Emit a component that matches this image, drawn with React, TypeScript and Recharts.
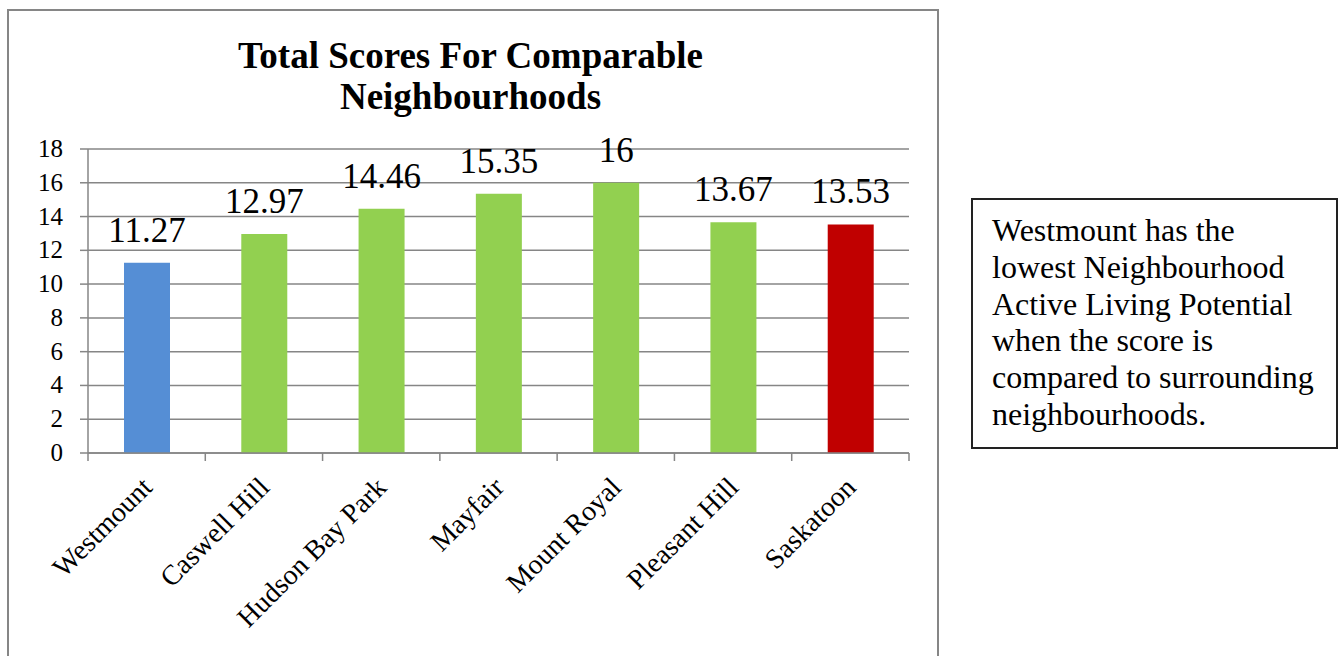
import { BarChart, Bar, XAxis, YAxis, CartesianGrid, Cell, LabelList } from 'recharts';

const neighbourhoods = ['Westmount', 'Caswell Hill', 'Hudson Bay Park', 'Mayfair', 'Mount Royal', 'Pleasant Hill', 'Saskatoon'];
const scores = [11.27, 12.97, 14.46, 15.35, 16, 13.67, 13.53];
const barColors = ['#558ED5', '#92D050', '#92D050', '#92D050', '#92D050', '#92D050', '#C00000'];
const yTicks = [0, 2, 4, 6, 8, 10, 12, 14, 16, 18];

const titleLines = ['Total Scores For Comparable', 'Neighbourhoods'];
const noteLines = [
  'Westmount has the',
  'lowest Neighbourhood',
  'Active Living Potential',
  'when the score is',
  'compared to surrounding',
  'neighbourhoods.',
];

const FONT = '"Liberation Serif", "Times New Roman", serif';
const GRAY = '#868686';

const chartData = neighbourhoods.map((name, i) => ({ name, value: scores[i] }));

// rotated category label plus tick marks on the category edges (Excel style)
function CategoryTick(props: any) {
  const { x, y, payload } = props;
  const half = payload.offset || 0;
  const tx = x + 7;
  const ty = y + 36;
  const last = payload.index === neighbourhoods.length - 1;
  return (
    <g>
      <line x1={x - half} x2={x - half} y1={y} y2={y + 8} stroke={GRAY} strokeWidth={1.5} />
      {last && <line x1={x + half} x2={x + half} y1={y} y2={y + 8} stroke={GRAY} strokeWidth={1.5} />}
      <text
        x={tx}
        y={ty}
        textAnchor="end"
        transform={`rotate(-45, ${tx}, ${ty})`}
        fontSize={28}
        fontFamily={FONT}
        fill="#000"
      >
        {payload.value}
      </text>
    </g>
  );
}

function ValueTick(props: any) {
  const { x, y, payload } = props;
  return (
    <text x={x} y={y} dy={8} textAnchor="end" fontSize={25} fontFamily={FONT} fill="#000">
      {payload.value}
    </text>
  );
}

export default function App() {
  return (
    <div style={{ position: 'absolute', left: 0, top: 0, width: 1338, height: 656, overflow: 'hidden' }}>
      {/* chart frame, bottom edge runs off the page */}
      <div
        style={{
          position: 'absolute',
          left: 7,
          top: 9,
          width: 928,
          height: 660,
          border: `2px solid ${GRAY}`,
          borderBottom: 'none',
        }}
      />
      <div
        style={{
          position: 'absolute',
          left: 7,
          top: 35,
          width: 927,
          textAlign: 'center',
          fontFamily: FONT,
          fontWeight: 'bold',
          fontSize: 37,
          lineHeight: '41px',
          color: '#000',
        }}
      >
        {titleLines.map(t => (
          <div key={t}>{t}</div>
        ))}
      </div>

      <div style={{ position: 'absolute', left: 0, top: 0 }}>
        <BarChart
          width={940}
          height={656}
          data={chartData}
          margin={{ top: 149, right: 31, left: 28, bottom: 202 }}
        >
          <CartesianGrid horizontal vertical={false} stroke={GRAY} strokeWidth={1.5} />
          <XAxis
            dataKey="name"
            interval={0}
            height={1}
            tickSize={0}
            tickMargin={0}
            tickLine={false}
            axisLine={{ stroke: GRAY, strokeWidth: 1.5 }}
            tick={<CategoryTick />}
          />
          <YAxis
            domain={[0, 18]}
            ticks={yTicks}
            interval={0}
            width={60}
            tickSize={8}
            tickMargin={17}
            axisLine={{ stroke: GRAY, strokeWidth: 1.5 }}
            tickLine={{ stroke: GRAY, strokeWidth: 1.5 }}
            tick={<ValueTick />}
          />
          <Bar dataKey="value" barSize={46} isAnimationActive={false}>
            {chartData.map((d, i) => (
              <Cell key={d.name} fill={barColors[i]} />
            ))}
            <LabelList
              dataKey="value"
              position="top"
              offset={21}
              fontSize={35}
              fontFamily={FONT}
              fill="#000"
            />
          </Bar>
        </BarChart>
      </div>

      <div
        style={{
          position: 'absolute',
          left: 971,
          top: 198,
          width: 367,
          height: 251,
          border: '2px solid #222',
          padding: '12px 0 0 19px',
          boxSizing: 'border-box',
          fontFamily: FONT,
          fontSize: 32,
          lineHeight: '36.8px',
          color: '#000',
          whiteSpace: 'nowrap',
        }}
      >
        {noteLines.map(t => (
          <div key={t}>{t}</div>
        ))}
      </div>
    </div>
  );
}
